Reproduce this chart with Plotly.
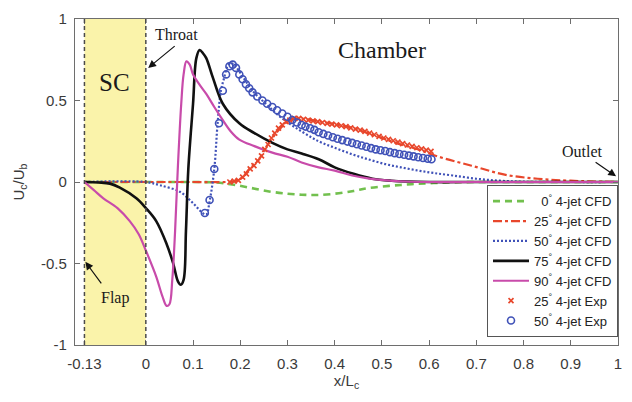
import plotly.graph_objects as go

# ---- data -------------------------------------------------------------
# Centreline velocity U_c/U_b along the chamber, x/L_c

x_0cfd = [-0.13, 0.0, 0.1, 0.15, 0.183, 0.22, 0.261, 0.30, 0.33, 0.36, 0.40, 0.44, 0.47,
          0.54, 0.61, 0.70, 0.80, 0.90, 1.0]
y_0cfd = [0.0, 0.0, 0.0, -0.003, -0.015, -0.035, -0.058, -0.072, -0.078, -0.08, -0.072,
          -0.055, -0.038, -0.018, -0.006, 0.0, 0.0, 0.0, 0.0]

x_25cfd = [-0.13, 0.0, 0.1, 0.17, 0.19, 0.205, 0.219, 0.24, 0.254, 0.268, 0.282, 0.30,
           0.317, 0.34, 0.37, 0.40, 0.44, 0.47, 0.50, 0.54, 0.577, 0.62, 0.69, 0.76,
           0.83, 0.90, 1.0]
y_25cfd = [0.0, 0.0, 0.0, 0.0, 0.005, 0.03, 0.08, 0.14, 0.21, 0.27, 0.32, 0.37,
           0.39, 0.385, 0.37, 0.355, 0.33, 0.30, 0.27, 0.23, 0.20, 0.155, 0.10, 0.045,
           0.02, 0.008, 0.0]

x_50cfd = [-0.13, 0.0, 0.03, 0.072, 0.10, 0.12, 0.128, 0.135, 0.145, 0.152, 0.159, 0.166,
           0.173, 0.18, 0.19, 0.2, 0.226, 0.254, 0.289, 0.33, 0.366, 0.40, 0.437, 0.47,
           0.507, 0.54, 0.577, 0.61, 0.65, 0.70, 0.75, 0.80, 0.90, 1.0]
y_50cfd = [0.0, 0.0, -0.02, -0.06, -0.13, -0.19, -0.2, -0.12, 0.08, 0.36, 0.56, 0.64,
           0.71, 0.73, 0.71, 0.67, 0.56, 0.48, 0.39, 0.31, 0.25, 0.21, 0.17, 0.14,
           0.11, 0.09, 0.07, 0.055, 0.04, 0.02, 0.008, 0.002, 0.0, 0.0]

x_75cfd = [-0.13, -0.1, -0.076, -0.055, -0.02, 0.0, 0.022, 0.044, 0.058, 0.068, 0.074,
           0.08, 0.085, 0.09, 0.1, 0.107, 0.114, 0.121, 0.128, 0.142, 0.163, 0.198, 0.23,
           0.268, 0.30, 0.33, 0.366, 0.40, 0.44, 0.48, 0.52, 0.60, 0.70, 0.80, 0.90, 1.0]
y_75cfd = [0.0, -0.003, -0.01, -0.035, -0.1, -0.16, -0.24, -0.38, -0.5, -0.61, -0.63,
           -0.6, -0.3, 0.08, 0.48, 0.76, 0.81, 0.79, 0.76, 0.64, 0.48, 0.36, 0.30,
           0.24, 0.20, 0.175, 0.14, 0.09, 0.05, 0.02, 0.008, 0.0, 0.0, 0.0, 0.0, 0.0]

x_90cfd = [-0.13, -0.11, -0.09, -0.06, -0.034, -0.015, 0.0, 0.022, 0.035, 0.044, 0.05,
           0.056, 0.062, 0.068, 0.075, 0.08, 0.086, 0.093, 0.1, 0.113, 0.128, 0.145,
           0.163, 0.18, 0.198, 0.23, 0.268, 0.30, 0.33, 0.366, 0.40, 0.437, 0.47, 0.51,
           0.55, 0.60, 0.70, 0.80, 0.90, 1.0]
y_90cfd = [0.0, -0.05, -0.1, -0.16, -0.24, -0.32, -0.42, -0.58, -0.7, -0.76, -0.75,
           -0.6, -0.3, 0.1, 0.48, 0.66, 0.74, 0.72, 0.66, 0.6, 0.54, 0.46,
           0.38, 0.31, 0.26, 0.22, 0.18, 0.155, 0.12, 0.09, 0.07, 0.04, 0.022, 0.01,
           0.003, 0.0, 0.0, 0.0, 0.0, 0.0]

x_25exp = [0.178, 0.187, 0.196, 0.205, 0.213, 0.221, 0.229, 0.237, 0.245, 0.252, 0.259,
           0.266, 0.273, 0.281, 0.289, 0.297, 0.305, 0.314, 0.324, 0.334, 0.344, 0.354,
           0.364, 0.374, 0.384, 0.394, 0.404, 0.414, 0.424, 0.434, 0.444, 0.454, 0.464,
           0.474, 0.484, 0.494, 0.504, 0.514, 0.524, 0.534, 0.544, 0.554, 0.564, 0.574,
           0.584, 0.594, 0.604]
y_25exp = [0.0, 0.005, 0.01, 0.03, 0.05, 0.08, 0.10, 0.13, 0.16, 0.20, 0.23,
           0.27, 0.30, 0.33, 0.35, 0.37, 0.38, 0.39, 0.39, 0.385, 0.38, 0.375,
           0.37, 0.365, 0.36, 0.355, 0.35, 0.345, 0.34, 0.332, 0.325, 0.318, 0.31,
           0.30, 0.29, 0.28, 0.27, 0.262, 0.253, 0.245, 0.235, 0.227, 0.218, 0.21,
           0.203, 0.195, 0.188]

x_50exp = [0.125, 0.135, 0.145, 0.155, 0.163, 0.170, 0.177, 0.184, 0.191, 0.198, 0.205,
           0.212, 0.219, 0.226, 0.236, 0.247, 0.257, 0.268, 0.278, 0.289, 0.30, 0.31,
           0.32, 0.33, 0.338, 0.348, 0.357, 0.366, 0.376, 0.386, 0.396, 0.406, 0.416,
           0.427, 0.437, 0.447, 0.457, 0.467, 0.477, 0.487, 0.497, 0.507, 0.517, 0.527,
           0.537, 0.547, 0.557, 0.567, 0.577, 0.587, 0.597, 0.605]
y_50exp = [-0.19, -0.11, 0.08, 0.36, 0.56, 0.66, 0.71, 0.72, 0.70, 0.66, 0.63,
           0.60, 0.575, 0.55, 0.525, 0.50, 0.48, 0.46, 0.44, 0.42, 0.40, 0.38,
           0.365, 0.35, 0.34, 0.33, 0.32, 0.305, 0.295, 0.285, 0.275, 0.265, 0.257,
           0.248, 0.24, 0.232, 0.224, 0.216, 0.208, 0.20, 0.195, 0.19, 0.183, 0.177,
           0.172, 0.167, 0.162, 0.157, 0.152, 0.147, 0.143, 0.14]

# region boundaries: flap position and throat
region_edges = [-0.13, 0.0]

x_ticks = [-0.13, 0, 0.1, 0.2, 0.3, 0.4, 0.5, 0.6, 0.7, 0.8, 0.9, 1]
x_tick_text = ["-0.13", "0", "0.1", "0.2", "0.3", "0.4", "0.5", "0.6", "0.7", "0.8", "0.9", "1"]
y_ticks = [-1, -0.5, 0, 0.5, 1]
y_tick_text = ["-1", "-0.5", "0", "0.5", "1"]

# ---- figure -----------------------------------------------------------
fig = go.Figure()

fig.add_trace(go.Scatter(x=x_0cfd, y=y_0cfd, mode="lines", name="  0<sup>°</sup> 4-jet CFD",
                         line=dict(color="#72C04E", width=2.6, dash="7px,5px"),
                         line_shape="spline"))
fig.add_trace(go.Scatter(x=x_25cfd, y=y_25cfd, mode="lines", name="25<sup>°</sup> 4-jet CFD",
                         line=dict(color="#E8472C", width=2.2, dash="dashdot"),
                         line_shape="spline"))
fig.add_trace(go.Scatter(x=x_50cfd, y=y_50cfd, mode="lines", name="50<sup>°</sup> 4-jet CFD",
                         line=dict(color="#4052B8", width=2.2, dash="2px,2px"),
                         line_shape="spline"))
fig.add_trace(go.Scatter(x=x_75cfd, y=y_75cfd, mode="lines", name="75<sup>°</sup> 4-jet CFD",
                         line=dict(color="#111111", width=2.6),
                         line_shape="spline"))
fig.add_trace(go.Scatter(x=x_90cfd, y=y_90cfd, mode="lines", name="90<sup>°</sup> 4-jet CFD",
                         line=dict(color="#C84BAA", width=2.2),
                         line_shape="spline"))
fig.add_trace(go.Scatter(x=x_25exp, y=y_25exp, mode="markers", name="25<sup>°</sup> 4-jet Exp",
                         marker=dict(symbol="x-thin", size=5, color="#E8472C",
                                     line=dict(color="#E8472C", width=1.7))))
fig.add_trace(go.Scatter(x=x_50exp, y=y_50exp, mode="markers", name="50<sup>°</sup> 4-jet Exp",
                         marker=dict(symbol="circle-open", size=7, color="#4052B8",
                                     line=dict(color="#4052B8", width=1.6))))

# SC region shading and boundary lines
fig.add_shape(type="rect", xref="x", yref="y", x0=region_edges[0], x1=region_edges[1],
              y0=-1, y1=1, fillcolor="#FAF3AA", line_width=0, layer="below")
for xe in region_edges:
    fig.add_shape(type="line", xref="x", yref="y", x0=xe, x1=xe, y0=-1, y1=1,
                  line=dict(color="#4a4a4a", width=1.5, dash="4px,3px"), layer="above")

serif = "Liberation Serif"
ann_color = "#1a1a1a"
fig.add_annotation(x=-0.066, y=0.61, xref="x", yref="y", text="SC", showarrow=False,
                   font=dict(family=serif, size=25, color=ann_color))
fig.add_annotation(x=0.5, y=0.81, xref="x", yref="y", text="Chamber", showarrow=False,
                   font=dict(family=serif, size=24, color=ann_color))
fig.add_annotation(x=0.066, y=0.905, xref="x", yref="y", text="Throat", showarrow=False,
                   font=dict(family=serif, size=16, color=ann_color))
fig.add_annotation(x=0.925, y=0.19, xref="x", yref="y", text="Outlet", showarrow=False,
                   font=dict(family=serif, size=16, color=ann_color))
fig.add_annotation(x=-0.065, y=-0.71, xref="x", yref="y", text="Flap", showarrow=False,
                   font=dict(family=serif, size=16, color=ann_color))

# pointer arrows
arrow_style = dict(showarrow=True, arrowhead=2, arrowsize=1.3, arrowwidth=1.2,
                   arrowcolor="#111111", text="", xref="x", yref="y")
fig.add_annotation(x=0.005, y=0.70, ax=28, ay=-23, **arrow_style)
fig.add_annotation(x=0.996, y=0.035, ax=-22, ay=-15, **arrow_style)
fig.add_annotation(x=-0.128, y=-0.49, ax=17, ay=23, **arrow_style)

tick_font = dict(family="Liberation Sans", size=15, color="#3a3a3a")
axis_common = dict(showline=True, linecolor="#6e6e6e", linewidth=1.3, mirror="ticks",
                   ticks="inside", ticklen=5, tickwidth=1.2, tickcolor="#6e6e6e",
                   showgrid=False, zeroline=False, tickfont=tick_font)

fig.update_layout(
    width=632, height=402,
    margin=dict(l=75, r=10, t=12, b=57),
    paper_bgcolor="white", plot_bgcolor="white",
    xaxis=dict(range=[-0.15, 1.0], tickvals=x_ticks, ticktext=x_tick_text,
               title=dict(text="x/L<sub>c</sub>", font=dict(family="Liberation Sans", size=15,
                                                            color="#3a3a3a"), standoff=4),
               ticklabelstandoff=5, **axis_common),
    yaxis=dict(range=[-1, 1], tickvals=y_ticks, ticktext=y_tick_text,
               title=dict(text="U<sub>c</sub>/U<sub>b</sub>", font=dict(family="Liberation Sans",
                                                                      size=15, color="#3a3a3a"),
                          standoff=12),
               ticklabelstandoff=4, **axis_common),
    legend=dict(x=1.0, y=0.024, xanchor="right", yanchor="bottom",
                bgcolor="white", bordercolor="#555555", borderwidth=1,
                font=dict(family="Liberation Sans", size=13, color="#222222"),
                tracegroupgap=0, itemwidth=36),
    showlegend=True,
)

fig.write_html("out.html")
